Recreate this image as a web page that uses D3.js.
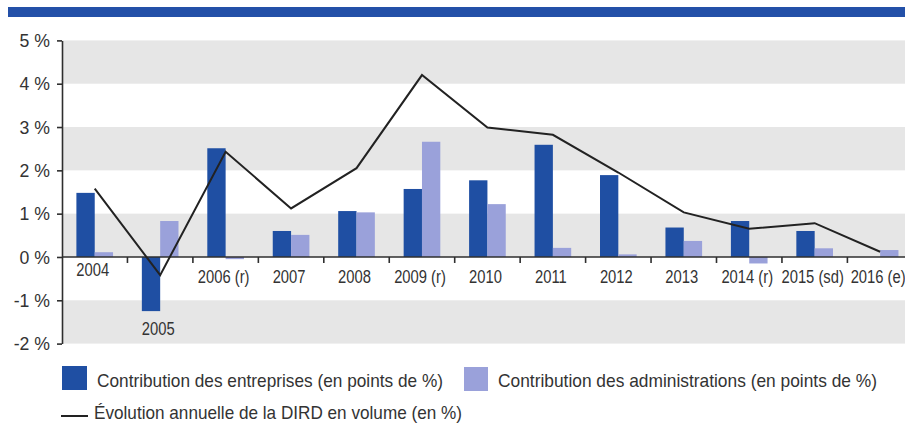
<!DOCTYPE html>
<html><head><meta charset="utf-8">
<script src="https://cdn.jsdelivr.net/npm/d3@7"></script>
<style>body{margin:0;background:#fff} svg{display:block}</style>
</head><body>
<svg id="c" width="905" height="423"></svg>
<script>
const categories = ["2004","2005","2006 (r)","2007","2008","2009 (r)","2010","2011","2012","2013","2014 (r)","2015 (sd)","2016 (e)"];
const entreprises = [1.48,-1.25,2.51,0.60,1.06,1.57,1.77,2.59,1.89,0.68,0.83,0.60,0];
const administrations = [0.11,0.83,-0.05,0.51,1.03,2.66,1.22,0.21,0.06,0.37,-0.15,0.20,0.16];
const dird = [1.58,-0.42,2.43,1.12,2.05,4.20,2.99,2.82,1.95,1.03,0.65,0.78,0.12];
const yTicks = [-2,-1,0,1,2,3,4,5];
const yTickLabels = ["-2 %","-1 %","0 %","1 %","2 %","3 %","4 %","5 %"];
const legendLabels = ["Contribution des entreprises (en points de %)","Contribution des administrations (en points de %)","Évolution annuelle de la DIRD en volume (en %)"];

const W = 905, H = 423;
const FONT = "'Liberation Sans','Arimo',sans-serif";
const C_BLUE = "#1f4fa3", C_LIGHT = "#9aa1da", C_GREY = "#e6e6e6", C_AXIS = "#2e2e2e", C_TEXT = "#333";
const svg = d3.select("#c");

// condense text horizontally (the source uses a condensed typeface)
function condense(sel, factor) {
  sel.each(function() {
    const n = this.getComputedTextLength();
    d3.select(this).attr("textLength", n * factor).attr("lengthAdjust", "spacingAndGlyphs");
  });
}

const left = 62, step = 65.45;
const x = d3.scaleBand().domain(categories).range([left, left + step * categories.length]).padding(0);
const y = d3.scaleLinear().domain([-2, 5]).range([343.6, 40.4]);
const bw = x.bandwidth() * 0.28;

// top blue rule
svg.append("rect").attr("x", 8).attr("y", 7).attr("width", W - 8).attr("height", 10).attr("fill", "#2350a8");

// background bands
const bands = [[4,5],[2,3],[0,1],[-2,-1]];
svg.append("g").selectAll("rect").data(bands).join("rect")
  .attr("x", left).attr("width", W - left)
  .attr("y", d => y(d[1])).attr("height", d => y(d[0]) - y(d[1]))
  .attr("fill", C_GREY);

// bars
const g = svg.append("g");
g.selectAll("rect.e").data(categories).join("rect").attr("class","e")
  .attr("x", d => x(d) + x.bandwidth()/2 - bw)
  .attr("width", bw)
  .attr("y", (d,i) => y(Math.max(0, entreprises[i])))
  .attr("height", (d,i) => Math.abs(y(entreprises[i]) - y(0)))
  .attr("fill", C_BLUE);
g.selectAll("rect.a").data(categories).join("rect").attr("class","a")
  .attr("x", d => x(d) + x.bandwidth()/2)
  .attr("width", bw)
  .attr("y", (d,i) => y(Math.max(0, administrations[i])))
  .attr("height", (d,i) => Math.abs(y(administrations[i]) - y(0)))
  .attr("fill", C_LIGHT);

// y axis
const yAxis = svg.append("g").attr("transform", `translate(${left},0)`)
  .call(d3.axisLeft(y).tickValues(yTicks).tickFormat((d,i) => yTickLabels[i]).tickSize(5).tickSizeOuter(0).tickPadding(7));
yAxis.select(".domain").attr("stroke", C_AXIS).attr("stroke-width", 1.6);
yAxis.selectAll(".tick line").attr("stroke", C_AXIS).attr("stroke-width", 1.6);
yAxis.selectAll(".tick text").attr("font-family", FONT).attr("font-size", 19).attr("fill", C_TEXT)
  .call(condense, 0.93);

// x axis line at zero
svg.append("line").attr("x1", left).attr("x2", W).attr("y1", y(0)).attr("y2", y(0))
  .attr("stroke", C_AXIS).attr("stroke-width", 1.6);
svg.append("g").selectAll("line").data(categories.slice(1)).join("line")
  .attr("x1", d => x(d)).attr("x2", d => x(d))
  .attr("y1", y(0)).attr("y2", y(0) + 6)
  .attr("stroke", C_AXIS).attr("stroke-width", 1.6);

// line series
const line = d3.line().x((d,i) => x(categories[i]) + x.bandwidth()/2).y(d => y(d));
svg.append("path").datum(dird).attr("d", line)
  .attr("fill", "none").attr("stroke", "#222").attr("stroke-width", 2);

// category labels
svg.append("g").selectAll("text").data(categories).join("text")
  .attr("x", d => x(d) + x.bandwidth()/2 - 2)
  .attr("y", (d,i) => entreprises[i] < 0 ? y(entreprises[i]) + 24 : (i === 0 ? y(0) + 19 : y(0) + 26))
  .attr("text-anchor", "middle")
  .attr("font-family", FONT).attr("font-size", 18).attr("fill", C_TEXT)
  .text(d => d)
  .call(condense, 0.82);

// legend
const lg = svg.append("g").attr("font-family", FONT).attr("font-size", 19).attr("fill", C_TEXT);
lg.append("rect").attr("x", 62).attr("y", 366).attr("width", 25).attr("height", 24).attr("fill", C_BLUE);
lg.append("text").attr("x", 97).attr("y", 387).attr("textLength", 346).attr("lengthAdjust", "spacingAndGlyphs").text(legendLabels[0]);
lg.append("rect").attr("x", 464).attr("y", 367).attr("width", 24).attr("height", 24).attr("fill", C_LIGHT);
lg.append("text").attr("x", 498).attr("y", 387).attr("textLength", 379).attr("lengthAdjust", "spacingAndGlyphs").text(legendLabels[1]);
lg.append("line").attr("x1", 61).attr("x2", 88).attr("y1", 416).attr("y2", 416).attr("stroke", "#222").attr("stroke-width", 2);
lg.append("text").attr("x", 94).attr("y", 419).attr("textLength", 368).attr("lengthAdjust", "spacingAndGlyphs").text(legendLabels[2]);
</script>
</body></html>
